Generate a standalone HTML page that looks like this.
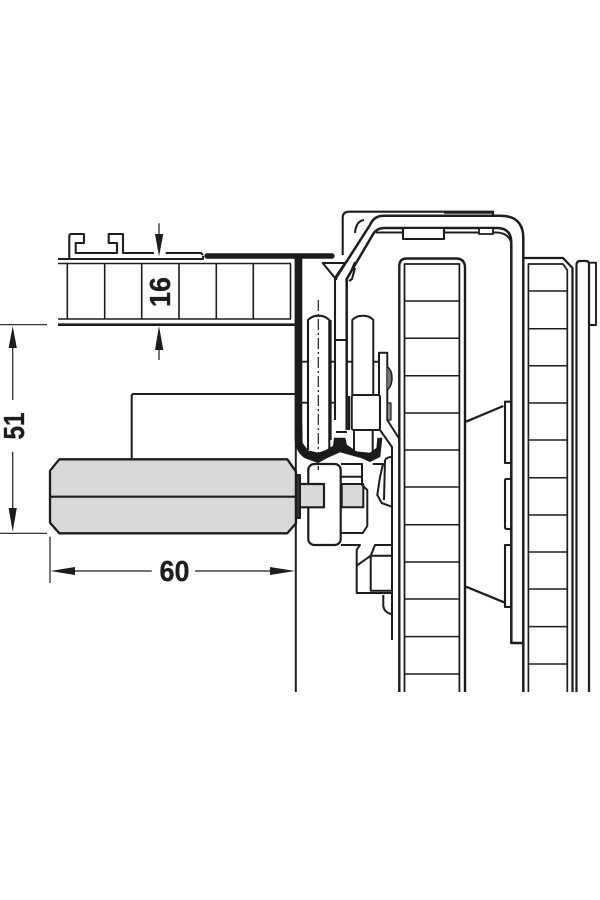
<!DOCTYPE html>
<html><head><meta charset="utf-8"><style>html,body{margin:0;padding:0;background:#fff}svg{display:block}</style></head><body>
<svg width="600" height="900" viewBox="0 0 600 900" xmlns="http://www.w3.org/2000/svg" fill="none" stroke="#1d1d1b" stroke-width="2" stroke-linejoin="round">
<rect width="600" height="900" fill="#fff" stroke="none"/>

<!-- left panel -->
<path d="M58 259H203V256M69.3 258V236q0-2 2-2H84V243H75.7V253H117V243H108.7V234H123V253H154M165.7 253H201l2 2" stroke-width="2.1"/>
<path d="M207 256H332" stroke-width="5.4" stroke-linecap="round"/>
<path d="M58 263.5H291M58 319H291" stroke-width="1.6"/>
<path d="M58 324.7H296" stroke-width="2.6"/>
<path d="M67.3 264V319M104.7 264V319M141.7 264V319M179 264V319M216.3 264V319M253.3 264V319M290.5 264V319" stroke-width="1.6"/>

<!-- block -->
<path d="M131.7 459V396q0-2 2-2H296" stroke-width="2"/>
<path d="M59.3 459.3H287.3L296 471.7V523.3L287.3 533.3H59.3L50 522.7V470.7Z" fill="#d8d9db" stroke-width="2.3"/>
<path d="M50 496.7H296" stroke-width="2.1"/>

<!-- lower assembly -->
<path d="M341.7 484H363.3V507.3H341.7Z" fill="#d8d9db" stroke-width="2"/>
<path d="M341 464H362V485L367.3 490V526L362.7 533H341M341 476.7H362" stroke-width="2"/>
<rect x="308.3" y="464" width="32.4" height="81" rx="6" fill="#fff" stroke-width="2.2"/>
<path d="M300 484H324V507.3H300" fill="#d8d9db" stroke-width="2.2"/>
<path d="M296 475H300V518H296Z" fill="#333"/>
<path d="M341 545H360L356.7 550V593H391.7M356.7 565.7L370.7 555.7V590.7H391.7M370.7 555.7H391.7M370.7 555.7L375 545H391.7" stroke-width="2"/>
<path d="M383.3 595V606Q384 612 391 614" stroke-width="2"/>
<path d="M372.7 464H383L380 477L377.3 495L381.7 503L391.7 506.7M385 460Q387 457 391.7 457M385 460L384 500" stroke-width="2"/>

<!-- centre rollers -->
<path d="M308 450V320Q312 315.7 318.6 315.7T329.3 320V450" stroke-width="2.1"/>
<path d="M318.3 300V470" stroke-width="1.2" stroke-dasharray="11 3 2 3"/>
<path d="M330.7 320V440M302 361.7H308M302 402.7H308M329.3 361.7H336M329.3 402.7H336M336 340H347M347 361.7H352.3" stroke-width="1.9"/>
<path d="M352.3 395V320Q356 315.7 363 315.7T373.3 320V395M349 396V430M373 361.7H379" stroke-width="2"/>
<path d="M379 395V352.7H387.3V420L400 440" stroke-width="2"/>
<path d="M387.3 366.7Q392 370 392 378T387.3 390" fill="#777" stroke-width="1.5"/>
<path d="M387.3 403H391V420H387.3Z" fill="#888" stroke-width="1.2"/>
<rect x="351.7" y="395" width="28.3" height="35" rx="2" fill="#fff" stroke-width="2.1"/>
<path d="M354 430V450M372.7 430V452M336 432H347" stroke-width="2"/>

<!-- wall -->
<path d="M295.8 256V692" stroke-width="2"/>
<path d="M295 256H302V420L302.3 443L308 450.7L318 453L325 450.7L333.3 446L334.3 438H345L346.7 445L356.7 451.7L370 453L376.7 448L377.7 438H382L380 456.7L370 461.7L361.7 458L340 452L326.7 458L318 462.7L305 458Q296 452 295 440Z" fill="#1a1a18" stroke="#1a1a18" stroke-width=".6"/>
<path d="M318.3 466V470" stroke-width="1.2"/>

<!-- top hood -->
<path d="M342.7 255V218Q342.7 211.7 349 211.7H493V214.5" stroke-width="2.1"/>
<path d="M444 212.5H493" stroke-width="2.6"/>
<path d="M355 233Q356 221 364 220M355 268L352 279L349 281M355 262L349 276" stroke-width="2.1"/>
<path d="M322.7 263H345L335 278Z" stroke-width="2.1"/>
<path d="M335 278V420" stroke-width="2.1"/>
<path d="M336 280V278L370 225Q374 215.7 384 215.7H500Q523.3 215.7 523.3 238V692" stroke-width="2.5"/>
<path d="M346.7 430V279L372 236Q376 228 384 228H497Q511.3 228 511.3 243V643H523.3" stroke-width="2.5"/>
<path d="M376 232.5H497Q508 233 511 242" stroke-width="1.9"/>
<path d="M403 229V239H444V229" fill="#fff" stroke-width="2.1"/>
<path d="M479 229V234H493V229" fill="#fff" stroke-width="1.8"/>

<!-- channel right of rollers -->
<path d="M380 430L392 447V640" stroke-width="2"/>

<!-- central carrier -->
<path d="M399.3 692V443M399.3 443V266Q399.3 258.5 407 258.5H456Q465 258.5 465 268V692" stroke-width="2.4"/>
<path d="M404.5 692V264H459.4V692" stroke-width="1.8"/>
<path d="M404.5 301H459.4M404.5 338.3H459.4M404.5 375.7H459.4M404.5 413H459.4M404.5 450H459.4M404.5 487H459.4M404.5 524.7H459.4M404.5 562H459.4M404.5 599H459.4M404.5 636.6H459.4M404.5 674H459.4" stroke-width="1.5"/>

<!-- trapezoid & plates -->
<path d="M466 421.7L503.3 406M466 586.7L505 602.7" stroke-width="2.2"/>
<path d="M510.7 401.7H505V463H510.7M510.7 479H506Q505 479 505 481V527Q505 529 507 529H510.7M510.7 545H505V607H510.7" stroke-width="2.1"/>

<!-- right carrier -->
<path d="M523.3 258H563L572.5 268V692" stroke-width="2.3"/>
<path d="M528.4 692V264H563L567.3 270V692" stroke-width="1.7"/>
<path d="M528.4 291H567.3M528.4 328.7H567.3M528.4 365.7H567.3M528.4 403H567.3M528.4 440H567.3M528.4 477.7H567.3M528.4 515H567.3M528.4 552H567.3M528.4 589H567.3M528.4 626.6H567.3M528.4 664H567.3" stroke-width="1.5"/>
<path d="M576.5 692V264Q577 261 580 261H586Q589 261 589 264V692" stroke-width="2.2"/>
<path d="M589 262.7H596V325H589" stroke-width="1.9"/>

<!-- dimensions -->
<g stroke-width="1.2">
<path d="M0 324.7H47M0 533.3H47M50 536.7V583"/>
<path d="M12.7 348V400M12.7 451.7V508"/>
<path d="M75 571H151.7M195 571H270"/>
<path d="M159 223.3V234M159 350V360"/>
</g>
<g fill="#1d1d1b" stroke="none">
<path d="M12.7 326L16.8 348H8.6Z"/>
<path d="M12.7 531.7L16.8 508H8.6Z"/>
<path d="M50.3 571L75 567V575Z"/>
<path d="M295 571L270 567V575Z"/>
<path d="M159 256.5L163.3 234H155Z"/>
<path d="M159 326L163.3 350H155Z"/>
</g>
<g fill="#1d1d1b" stroke="#1d1d1b" stroke-width=".35" font-family="'Liberation Sans',sans-serif" font-weight="700" font-size="29">
<text x="159.5" y="581" textLength="30" lengthAdjust="spacingAndGlyphs">60</text>
<text transform="translate(24 439.5) rotate(-90)" textLength="27" lengthAdjust="spacingAndGlyphs">51</text>
<text transform="translate(170 307) rotate(-90)" textLength="30" lengthAdjust="spacingAndGlyphs">16</text>
</g>
</svg>
</body></html>
